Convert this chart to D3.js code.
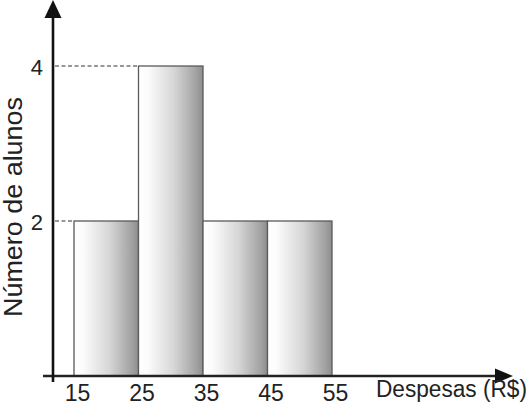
<!DOCTYPE html>
<html><head><meta charset="utf-8">
<script src="https://cdn.jsdelivr.net/npm/d3@7"></script>
<style>
html,body{margin:0;padding:0;background:#fff;}
svg{display:block;}
svg text{font-family:"Liberation Sans",Arial,Helvetica,sans-serif;}
</style></head>
<body>
<svg id="chart" width="532" height="410"></svg>
<script>
const binEdges = [15, 25, 35, 45, 55];
const counts = [2, 4, 2, 2];
const yTicks = [2, 4];
const xTitle = "Despesas (R$)";
const yTitle = "Número de alunos";

const svg = d3.select("#chart");
const x = d3.scaleLinear().domain([15, 55]).range([74, 332]);
const y = d3.scaleLinear().domain([0, 4]).range([376, 66]);
const axisX = 53;

const defs = svg.append("defs");
const grad = defs.append("linearGradient").attr("id", "barGrad")
  .attr("x1", "0%").attr("x2", "100%").attr("y1", "0%").attr("y2", "0%");
[[0, "#ffffff"], [0.15, "#fbfbfb"], [0.55, "#d6d6d6"], [0.88, "#a4a4a4"], [1, "#8e8e8e"]]
  .forEach(([o, c]) => grad.append("stop").attr("offset", o).attr("stop-color", c));

const bins = counts.map((c, i) => ({x0: binEdges[i], x1: binEdges[i + 1], c}));

// dashed guide lines
yTicks.forEach(t => {
  const firstBin = bins.find(b => b.c >= t);
  svg.append("line")
    .attr("x1", axisX + 2).attr("x2", x(firstBin.x0))
    .attr("y1", y(t)).attr("y2", y(t))
    .attr("stroke", "#777").attr("stroke-width", 1.5)
    .attr("stroke-dasharray", "4,2.5");
});

// bars
svg.append("g").selectAll("rect").data(bins).join("rect")
  .attr("x", d => x(d.x0)).attr("width", d => x(d.x1) - x(d.x0))
  .attr("y", d => y(d.c)).attr("height", d => y(0) - y(d.c))
  .attr("fill", "url(#barGrad)")
  .attr("stroke", "#5a5a5a").attr("stroke-width", 1.3);

// x axis labels
const gx = svg.append("g").attr("transform", `translate(0,${y(0)})`)
  .call(d3.axisBottom(x).tickValues(binEdges).tickSize(0).tickFormat(d3.format("d")));
gx.select(".domain").remove();
gx.attr("font-family", null).attr("font-size", null);
gx.selectAll("text").attr("y", 25).attr("dy", 0).attr("dx", 3)
  .attr("font-size", 23).attr("fill", "#222");

// y axis labels
const gy = svg.append("g").attr("transform", `translate(${axisX},0)`)
  .call(d3.axisLeft(y).tickValues(yTicks).tickSize(0).tickPadding(10).tickFormat(d3.format("d")));
gy.select(".domain").remove();
gy.attr("font-family", null).attr("font-size", null);
gy.selectAll("text").attr("dy", "0.38em")
  .attr("font-size", 22).attr("fill", "#222");

// axis lines
svg.append("line").attr("x1", 43).attr("x2", 500).attr("y1", y(0)).attr("y2", y(0))
  .attr("stroke", "#222").attr("stroke-width", 2.6);
svg.append("path").attr("d", `M513,${y(0)} L495,${y(0) - 7.5} L495,${y(0) + 7.5} Z`).attr("fill", "#111");
svg.append("line").attr("x1", axisX).attr("x2", axisX).attr("y1", 12).attr("y2", 382)
  .attr("stroke", "#111").attr("stroke-width", 2.6);
svg.append("path").attr("d", `M${axisX},0 L${axisX - 8.5},18 L${axisX + 8.5},18 Z`).attr("fill", "#111");

// titles
svg.append("text").attr("x", 376).attr("y", 397)
  .attr("font-size", 23).attr("fill", "#222")
  .attr("textLength", 151).attr("lengthAdjust", "spacingAndGlyphs")
  .text(xTitle);
svg.append("text").attr("transform", "translate(22,207) rotate(-90)")
  .attr("text-anchor", "middle").attr("font-size", 25).attr("fill", "#222")
  .attr("textLength", 220).attr("lengthAdjust", "spacingAndGlyphs")
  .text(yTitle);
</script>
</body></html>
